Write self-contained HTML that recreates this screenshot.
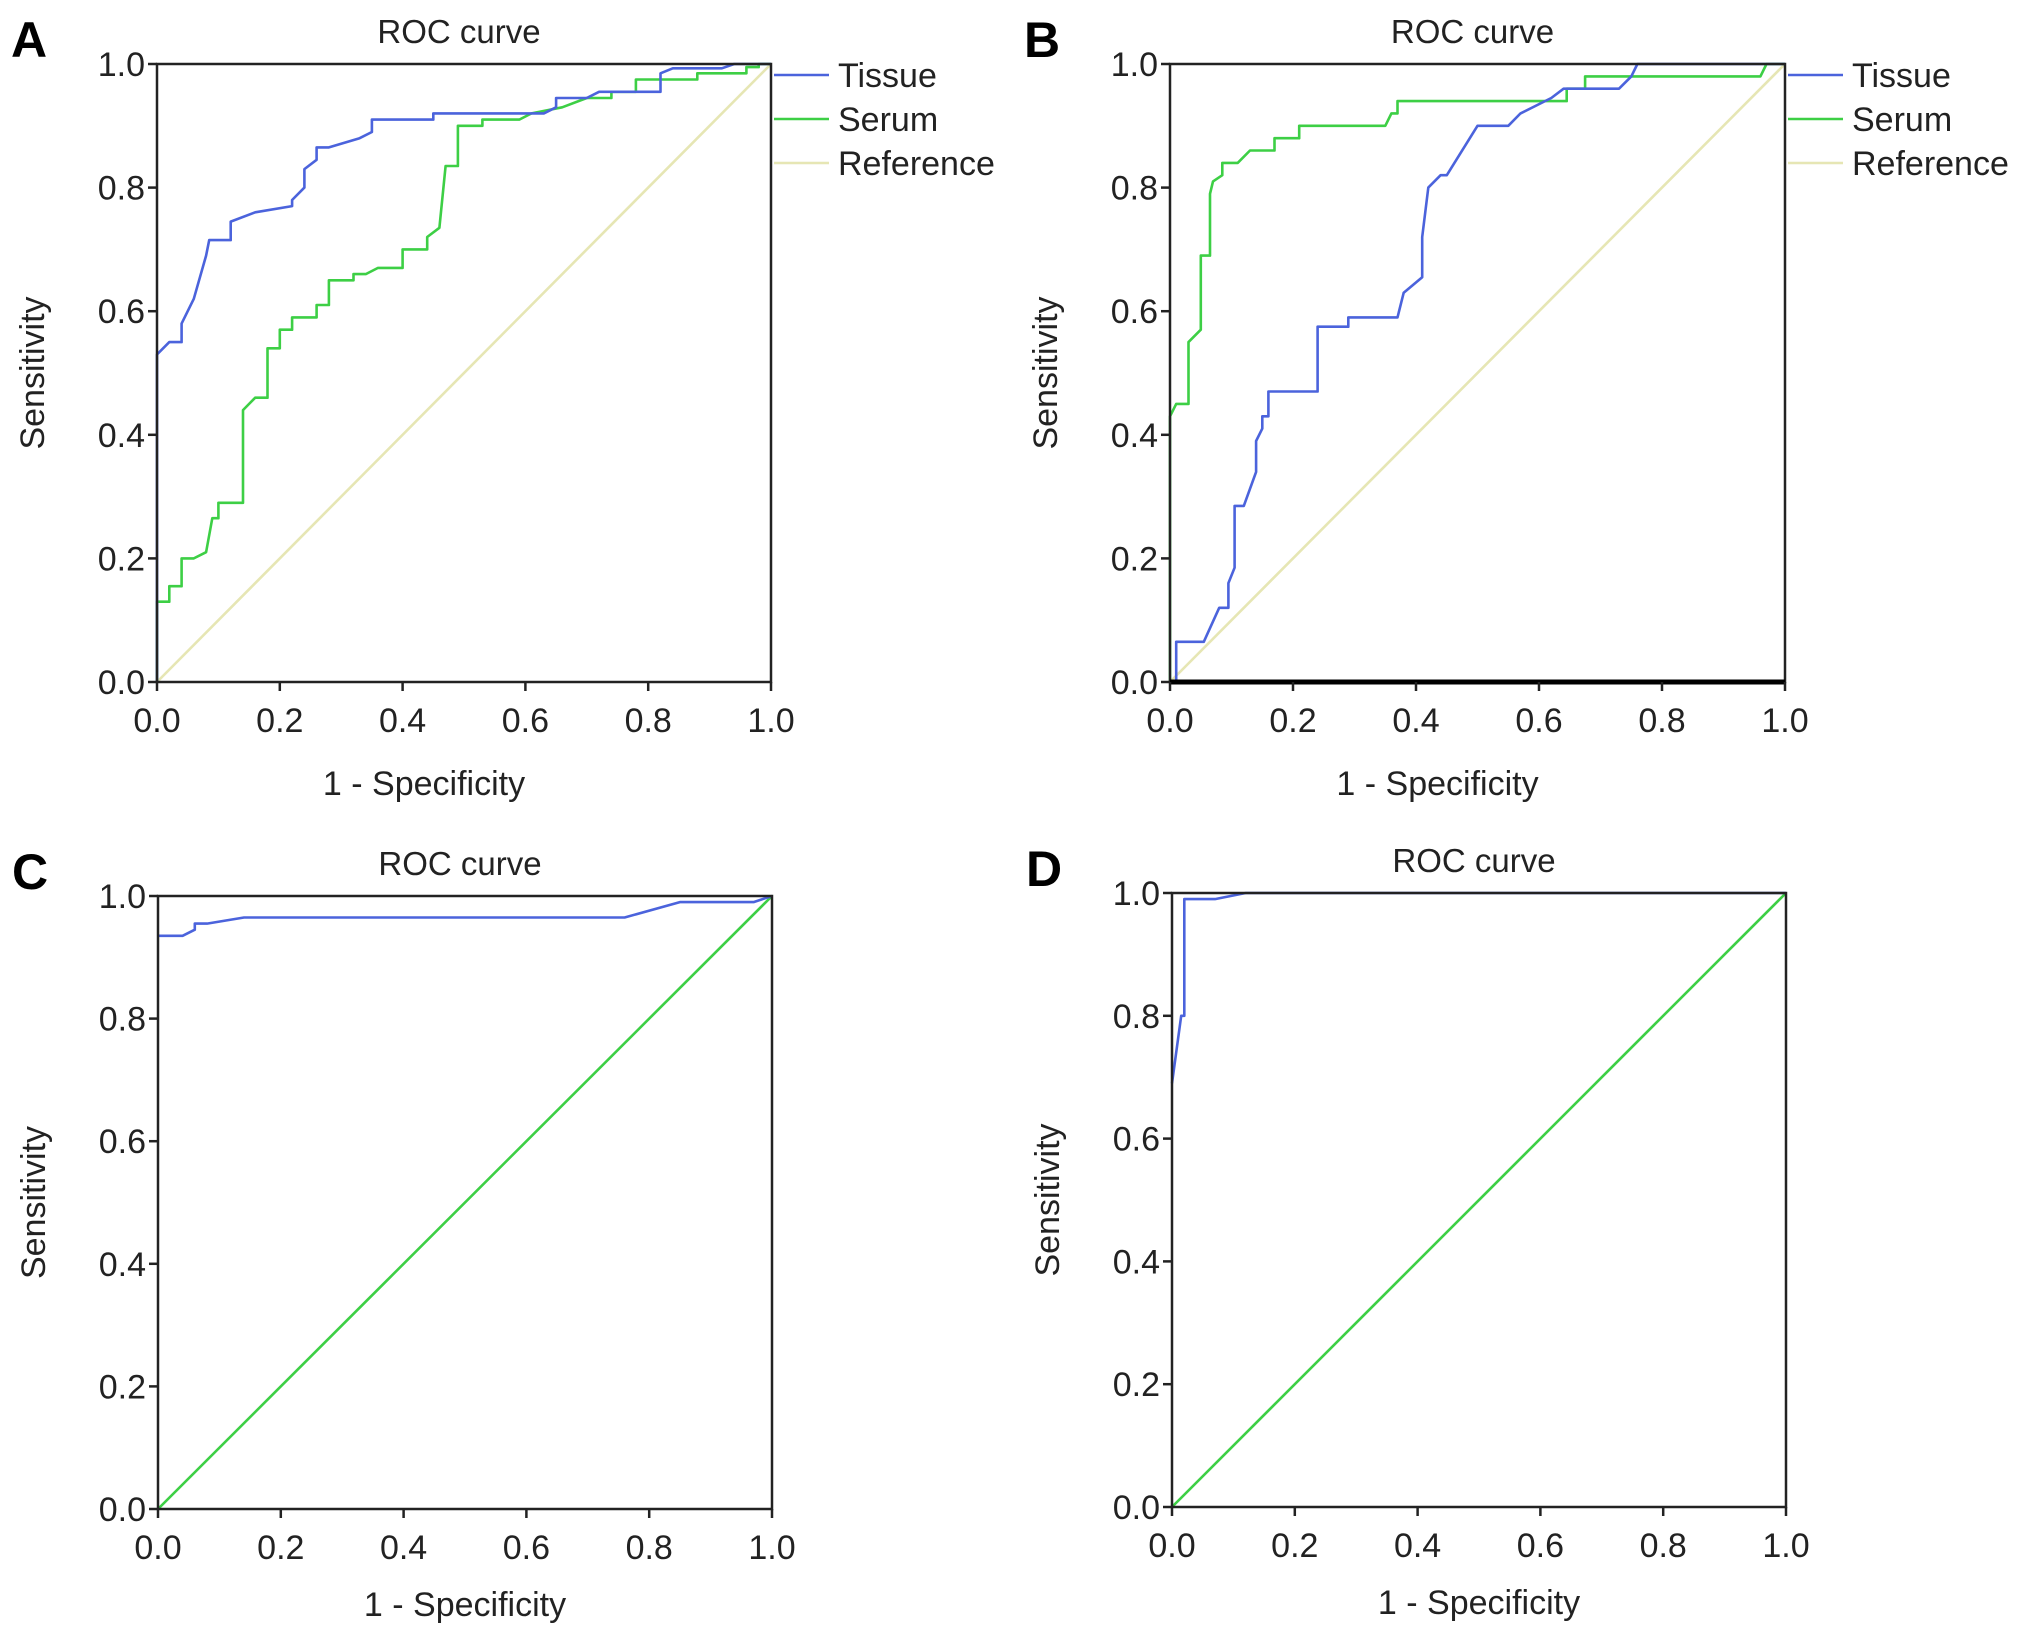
<!DOCTYPE html>
<html><head><meta charset="utf-8">
<style>
html,body{margin:0;padding:0;background:#fff;}
svg{display:block;font-family:"Liberation Sans",Arial,sans-serif;}
</style></head>
<body>
<svg id="fig" width="2031" height="1638" viewBox="0 0 2031 1638"></svg>
<script>
const xTicks = [0.0, 0.2, 0.4, 0.6, 0.8, 1.0];
const yTicks = [0.0, 0.2, 0.4, 0.6, 0.8, 1.0];
const tickLabels = ["0.0","0.2","0.4","0.6","0.8","1.0"];
const legendNames = ["Tissue","Serum","Reference"];

const aTissueX = [0,0,0.01,0.02,0.04,0.04,0.06,0.08,0.085,0.12,0.12,0.16,0.22,0.22,0.24,0.24,0.26,0.26,0.28,0.33,0.35,0.35,0.45,0.45,0.63,0.65,0.65,0.70,0.72,0.82,0.82,0.84,0.92,0.94,1];
const aTissueY = [0,0.53,0.54,0.55,0.55,0.58,0.62,0.69,0.715,0.715,0.745,0.76,0.77,0.78,0.80,0.83,0.845,0.865,0.865,0.88,0.89,0.91,0.91,0.92,0.92,0.93,0.945,0.945,0.955,0.955,0.985,0.993,0.993,1.0,1.0];
const aSerumX = [0,0,0.02,0.02,0.04,0.04,0.06,0.08,0.09,0.10,0.10,0.14,0.14,0.15,0.16,0.18,0.18,0.20,0.20,0.22,0.22,0.26,0.26,0.28,0.28,0.32,0.32,0.34,0.36,0.40,0.40,0.44,0.44,0.46,0.47,0.49,0.49,0.53,0.53,0.59,0.61,0.66,0.70,0.74,0.74,0.78,0.78,0.88,0.88,0.96,0.96,0.98,0.98,1];
const aSerumY = [0,0.13,0.13,0.155,0.155,0.20,0.20,0.21,0.265,0.265,0.29,0.29,0.44,0.45,0.46,0.46,0.54,0.54,0.57,0.57,0.59,0.59,0.61,0.61,0.65,0.65,0.66,0.66,0.67,0.67,0.70,0.70,0.72,0.735,0.835,0.835,0.90,0.90,0.91,0.91,0.92,0.93,0.945,0.945,0.955,0.955,0.975,0.975,0.985,0.985,0.995,0.995,1.0,1.0];

const bTissueX = [0,0.01,0.01,0.055,0.08,0.095,0.095,0.105,0.105,0.12,0.14,0.14,0.15,0.15,0.16,0.16,0.24,0.24,0.29,0.29,0.37,0.38,0.41,0.41,0.42,0.44,0.45,0.50,0.55,0.57,0.62,0.64,0.73,0.75,0.76,1];
const bTissueY = [0,0,0.065,0.065,0.12,0.12,0.16,0.185,0.285,0.285,0.34,0.39,0.41,0.43,0.43,0.47,0.47,0.575,0.575,0.59,0.59,0.63,0.655,0.72,0.80,0.82,0.82,0.90,0.90,0.92,0.945,0.96,0.96,0.98,1.0,1.0];
const bSerumX = [0,0,0.01,0.03,0.03,0.05,0.05,0.065,0.065,0.07,0.085,0.085,0.11,0.13,0.17,0.17,0.21,0.21,0.35,0.36,0.37,0.37,0.645,0.645,0.675,0.675,0.96,0.97,1];
const bSerumY = [0,0.43,0.45,0.45,0.55,0.57,0.69,0.69,0.79,0.81,0.82,0.84,0.84,0.86,0.86,0.88,0.88,0.90,0.90,0.92,0.92,0.94,0.94,0.96,0.96,0.98,0.98,1.0,1.0];

const cTissueX = [0,0.04,0.06,0.06,0.08,0.14,0.76,0.85,0.97,1];
const cTissueY = [0.935,0.935,0.945,0.955,0.955,0.965,0.965,0.99,0.99,1.0];
const dTissueX = [0,0.015,0.02,0.02,0.07,0.12,1];
const dTissueY = [0.69,0.8,0.8,0.99,0.99,1.0,1.0];
const refX = [0,1];
const refY = [0,1];

const BLUE="#4b63dc", GREEN="#3dcf45", REF="#e6e6b4";
const NS="http://www.w3.org/2000/svg";
const svg=document.getElementById('fig');
function mk(tag,attrs,parent){const e=document.createElementNS(NS,tag);for(const k in attrs)e.setAttribute(k,attrs[k]);(parent||svg).appendChild(e);return e;}

const panels=[
 {id:'a',letter:'A',L:157,R:771,T:64,B:682,legend:true,thickBottom:false,xtOff:-40,xtY:113,
  series:[{n:'reference-line',x:refX,y:refY,c:REF},{n:'serum-curve',x:aSerumX,y:aSerumY,c:GREEN},{n:'tissue-curve',x:aTissueX,y:aTissueY,c:BLUE}]},
 {id:'b',letter:'B',L:1170,R:1785,T:64,B:682,legend:true,thickBottom:true,xtOff:-40,xtY:113,
  series:[{n:'reference-line',x:refX,y:refY,c:REF},{n:'serum-curve',x:bSerumX,y:bSerumY,c:GREEN},{n:'tissue-curve',x:bTissueX,y:bTissueY,c:BLUE}]},
 {id:'c',letter:'C',L:158,R:772,T:896,B:1509,legend:false,thickBottom:false,xtOff:0,xtY:107,
  series:[{n:'reference-line',x:refX,y:refY,c:GREEN},{n:'tissue-curve',x:cTissueX,y:cTissueY,c:BLUE}]},
 {id:'d',letter:'D',L:1172,R:1786,T:893,B:1507,legend:false,thickBottom:false,xtOff:0,xtY:107,
  series:[{n:'reference-line',x:refX,y:refY,c:GREEN},{n:'tissue-curve',x:dTissueX,y:dTissueY,c:BLUE}]}
];

panels.forEach(p=>{
  const g=mk('g',{});
  
  
  const sx=v=>p.L+v*(p.R-p.L);
  const sy=v=>p.B-v*(p.B-p.T);
  const cx=(p.L+p.R)/2, cy=(p.T+p.B)/2;
  const letter=mk('text',{x:p.L-146,y:p.T-7,'font-size':50,'font-weight':'bold',fill:'#000'},g);
  letter.textContent=p.letter;
  
  
  const title=mk('text',{x:cx-5,y:p.T-21,'font-size':33,'text-anchor':'middle',fill:'#222'},g);
  title.textContent='ROC curve';
  
  
  p.series.forEach(s=>{
    const pts=s.x.map((v,i)=>sx(v).toFixed(1)+','+sy(s.y[i]).toFixed(1)).join(' ');
    const pl=mk('polyline',{points:pts,fill:'none',stroke:s.c,'stroke-width':2.6,'stroke-linejoin':'round'},g);
    
    
  });
  const fr=mk('rect',{x:p.L,y:p.T,width:p.R-p.L,height:p.B-p.T,fill:'none',stroke:'#222','stroke-width':2.5},g);
  
  
  if(p.thickBottom){
    const tb=mk('line',{x1:p.L,x2:p.R,y1:p.B,y2:p.B,stroke:'#000','stroke-width':5},g);
    
    
  }
  xTicks.forEach((v,i)=>{
    const t=mk('line',{x1:sx(v),x2:sx(v),y1:p.B,y2:p.B+9,stroke:'#222','stroke-width':2.5},g);
    
    
    const l=mk('text',{x:sx(v),y:p.B+50,'font-size':34,'text-anchor':'middle',fill:'#222'},g);
    l.textContent=tickLabels[i];
    
    
  });
  yTicks.forEach((v,i)=>{
    const t=mk('line',{x1:p.L-9,x2:p.L,y1:sy(v),y2:sy(v),stroke:'#222','stroke-width':2.5},g);
    
    
    const l=mk('text',{x:p.L-12,y:sy(v)+12,'font-size':34,'text-anchor':'end',fill:'#222'},g);
    l.textContent=tickLabels[i];
    
    
  });
  const xt=mk('text',{x:cx+p.xtOff,y:p.B+p.xtY,'font-size':34,'text-anchor':'middle',fill:'#222'},g);
  xt.textContent='1 - Specificity';
  
  
  const yx=p.L-113;
  const yt=mk('text',{x:yx,y:cy,'font-size':34,'text-anchor':'middle',fill:'#222',transform:'rotate(-90 '+yx+' '+cy+')'},g);
  yt.textContent='Sensitivity';
  
  
  if(p.legend){
    const cols=[BLUE,GREEN,REF];
    legendNames.forEach((nm,i)=>{
      const ly=p.T+11+i*44;
      const le=mk('g',{},g);
      
      
      mk('line',{x1:p.R+3,x2:p.R+58,y1:ly,y2:ly,stroke:cols[i],'stroke-width':2.6},le);
      const t=mk('text',{x:p.R+67,y:ly+12,'font-size':34,fill:'#222'},le);
      t.textContent=nm;
    });
  }
});
</script>
</body></html>
